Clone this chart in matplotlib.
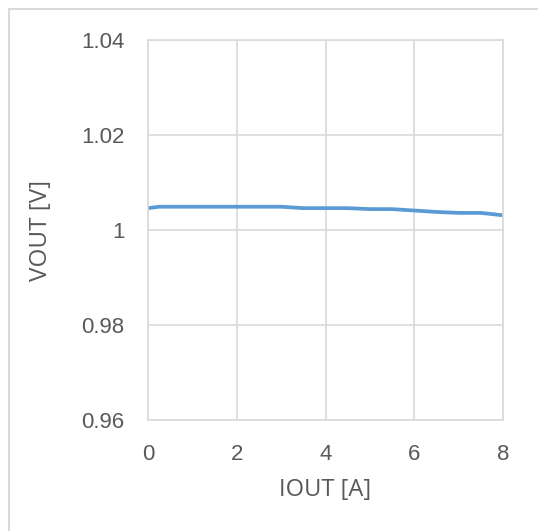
import matplotlib

matplotlib.use("agg")
import matplotlib.pyplot as plt
from matplotlib.lines import Line2D

# IOUT [A] vs VOUT [V]
iout = [0, 0.25, 0.5, 1, 1.5, 2, 2.5, 3, 3.5, 4, 4.5, 5, 5.5, 6, 6.5, 7, 7.5, 8]
vout = [1.0046, 1.0049, 1.0049, 1.0049, 1.0049, 1.0049, 1.0049, 1.0049, 1.0046,
        1.0046, 1.0046, 1.0044, 1.0044, 1.0041, 1.0038, 1.0036, 1.0036, 1.0031]
xticks = [0, 2, 4, 6, 8]
yticks = [0.96, 0.98, 1.0, 1.02, 1.04]
ytick_labels = ["0.96", "0.98", "1", "1.02", "1.04"]

grid_col = "#D9D9D9"
text_col = "#595959"

fig = plt.figure(figsize=(5.38, 5.31), dpi=100)
W, H = 538, 531
ax = fig.add_axes([148 / W, 1 - 420 / H, (503 - 148) / W, (420 - 40) / H])

ax.plot(iout, vout, color="#5B9BD5", lw=2.7, solid_capstyle="butt")

ax.set_xlim(0, 8)
ax.set_ylim(0.96, 1.04)
ax.set_xticks(xticks)
ax.set_xticklabels([str(x) for x in xticks])
ax.set_yticks(yticks)
ax.set_yticklabels(ytick_labels)
ax.grid(True, color=grid_col, lw=1.2)
ax.set_axisbelow(True)
for s in ax.spines.values():
    s.set_color(grid_col)
    s.set_linewidth(1.2)
ax.tick_params(length=0, labelsize=16, labelcolor=text_col, pad=17)
for lab in ax.get_xticklabels() + ax.get_yticklabels():
    lab.set_family("Liberation Sans")

ax.set_xlabel("IOUT [A]", fontsize=17, color=text_col, family="Open Sans", labelpad=10)
ax.set_ylabel("VOUT [V]", fontsize=17.5, color=text_col, family="Open Sans", labelpad=20)

# outer chart frame (runs off the right and bottom edges)
fig.add_artist(Line2D([9 / W, 1.0], [1 - 9 / H, 1 - 9 / H], color=grid_col, lw=1.5))
fig.add_artist(Line2D([9 / W, 9 / W], [0.0, 1 - 9 / H], color=grid_col, lw=1.5))

fig.savefig("out.png", dpi=100)
